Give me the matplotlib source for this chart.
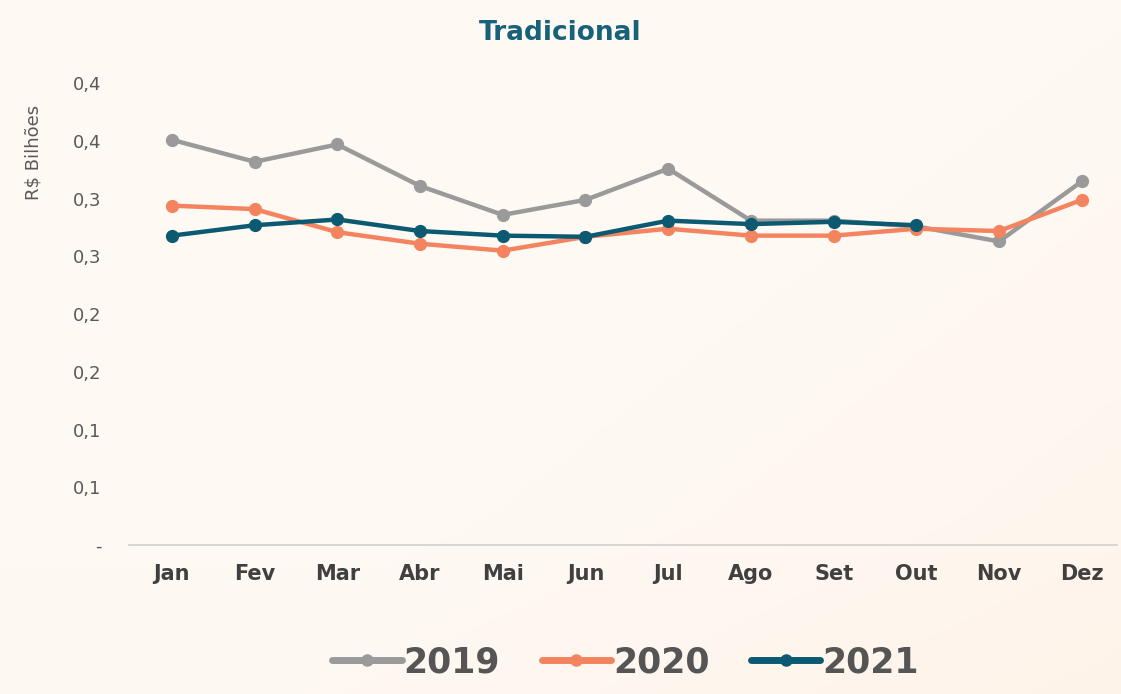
import math
import numpy as np
import matplotlib
matplotlib.use("Agg")
import matplotlib.pyplot as plt
from matplotlib.ticker import MultipleLocator, FuncFormatter

# dados (R$ bilhões)
meses = ["Jan", "Fev", "Mar", "Abr", "Mai", "Jun", "Jul", "Ago", "Set", "Out", "Nov", "Dez"]
v2019 = [0.351, 0.332, 0.347, 0.311, 0.286, 0.299, 0.326, 0.281, 0.281, 0.276, 0.263, 0.315]
v2020 = [0.294, 0.291, 0.271, 0.261, 0.255, 0.267, 0.274, 0.268, 0.268, 0.274, 0.272, 0.299]
v2021 = [0.268, 0.277, 0.282, 0.272, 0.268, 0.267, 0.281, 0.278, 0.280, 0.277]

cores = {"2019": "#9a9a9a", "2020": "#f4845f", "2021": "#0c5a72"}

fig = plt.figure(figsize=(11.21, 6.94), dpi=100)
fig.patch.set_facecolor("#fffdfc")

# fundo suave (imitando a imagem esmaecida)
bg = fig.add_axes([0, 0, 1, 1], zorder=0)
yy, xx = np.mgrid[0:1:200j, 0:1:300j]
grad = 0.6 * np.clip(xx + 0.8 * yy - 1.0, 0, 1) + 0.3 * np.clip(yy - 0.75, 0, 1)
bg.imshow(grad, cmap="Oranges", vmin=0, vmax=5, aspect="auto", extent=[0, 1, 0, 1], alpha=0.45)
bg.axis("off")

ax = fig.add_axes([0.115, 0.2147, 0.881, 0.6653], zorder=1)
ax.patch.set_alpha(0)

x = np.arange(len(meses))
for nome, vals in [("2019", v2019), ("2020", v2020), ("2021", v2021)]:
    ax.plot(x[:len(vals)], vals, color=cores[nome], lw=3.2, marker="o", ms=8.5,
            label=nome, solid_capstyle="round")

ax.set_xlim(-0.52, 11.42)
ax.set_ylim(0, 0.40)
ax.yaxis.set_major_locator(MultipleLocator(0.05))

def fmt(v, pos):
    if abs(v) < 1e-9:
        return "-"
    r = math.floor(v * 10 + 0.5 + 1e-9) / 10
    return f"{r:.1f}".replace(".", ",")

ax.yaxis.set_major_formatter(FuncFormatter(fmt))
ax.set_xticks(x)
ax.set_xticklabels(meses, fontsize=15, fontweight="bold", color="#404040")
ax.tick_params(axis="x", length=0, pad=14)
ax.tick_params(axis="y", length=0, labelsize=13, labelcolor="#595959", pad=20)

for s in ["top", "right", "left"]:
    ax.spines[s].set_visible(False)
ax.spines["bottom"].set_color("#d0d0d0")
ax.spines["bottom"].set_linewidth(1.2)

ax.set_ylabel("R$ Bilhões", fontsize=13, color="#595959")
ax.yaxis.set_label_coords(-0.088, 0.85)

fig.text(0.5, 0.953, "Tradicional", ha="center", va="center", fontsize=19,
         fontweight="bold", color="#17627a")

leg = fig.legend(loc="center", bbox_to_anchor=(0.558, 0.046), ncol=3, frameon=False,
                 fontsize=25, handlelength=2.0, handletextpad=0.05, columnspacing=1.2)
for t in leg.get_texts():
    t.set_color("#555555")
    t.set_fontweight("bold")
for h in leg.legend_handles:
    h.set_linewidth(5)
    h.set_markersize(8)

fig.savefig("out.png", dpi=100, facecolor=fig.get_facecolor())
